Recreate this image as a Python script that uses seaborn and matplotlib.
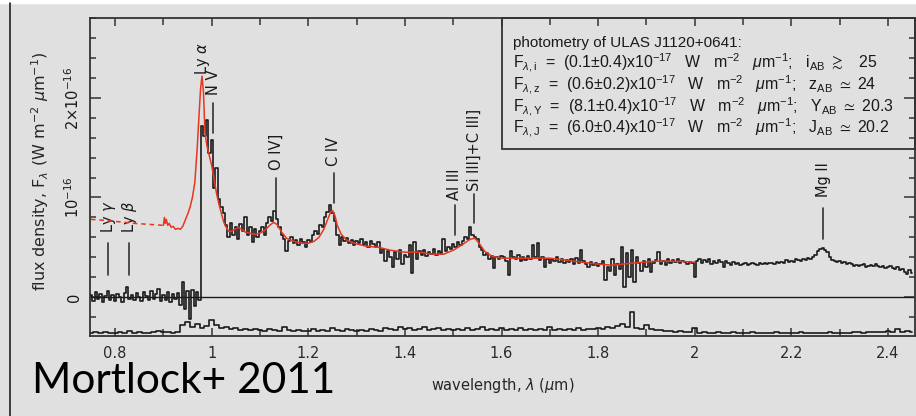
import numpy as np
import pandas as pd
import matplotlib
matplotlib.use("Agg")
import matplotlib.pyplot as plt
import seaborn as sns
from matplotlib.patches import Rectangle
from matplotlib.lines import Line2D
from matplotlib.ticker import MultipleLocator, FixedLocator, FuncFormatter

# ---------------------------------------------------------------------------
# Data (flux densities in units of 1e-16 W m^-2 um^-1, wavelengths in um)
# ---------------------------------------------------------------------------
# Observed spectrum, 0.005 um bins starting at 0.750 um
spec_start, spec_step = 0.750, 0.005
flux_blue = [0.02, -0.04, 0.05, -0.02, 0.03, -0.05, 0.01, 0.06, -0.03, 0.02,
             -0.04, 0.03, 0.00, -0.05, 0.04, 0.10, -0.02, 0.02, -0.03, 0.04,
             0.00, -0.04, 0.05, 0.01, -0.03, 0.06, -0.02, 0.03, 0.08, -0.04,
             0.02, -0.03, 0.05, -0.05, 0.03, -0.02, 0.04, -0.08, 0.15, -0.12,
             0.06, -0.22, 0.07, -0.09, 0.05, -0.03]
flux_lya = [1.72, 1.62, 1.78, 1.45, 1.58, 1.10, 1.30, 0.98, 0.90, 0.84,
            0.72, 0.60, 0.74, 0.62, 0.70, 0.58, 0.73, 0.66, 0.80, 0.62,
            0.70, 0.55, 0.68, 0.60, 0.66]
flux_civ = [0.70, 0.62, 0.74, 0.80, 0.76, 0.86, 0.78, 0.70, 0.62, 0.58,
            0.46, 0.56, 0.60, 0.54, 0.57, 0.52, 0.58, 0.55, 0.50, 0.57,
            0.55, 0.62, 0.66, 0.63, 0.72, 0.70, 0.80, 0.85, 0.92, 0.84,
            0.76, 0.62, 0.52, 0.60, 0.56, 0.59, 0.54, 0.57, 0.52, 0.56]
flux_ciii = [0.54, 0.58, 0.52, 0.55, 0.50, 0.56, 0.53, 0.50, 0.55, 0.44,
             0.48, 0.36, 0.46, 0.40, 0.30, 0.45, 0.38, 0.47, 0.33, 0.42,
             0.40, 0.52, 0.24, 0.55, 0.38, 0.46, 0.42, 0.47, 0.41, 0.45,
             0.43, 0.48, 0.42, 0.46, 0.44, 0.58, 0.46, 0.50, 0.48, 0.53,
             0.50, 0.55, 0.52, 0.56, 0.60, 0.58, 0.70, 0.62, 0.60, 0.58,
             0.50, 0.47, 0.42, 0.44, 0.38, 0.41, 0.29, 0.40, 0.38, 0.41]
flux_h = [0.40, 0.36, 0.22, 0.46, 0.40, 0.38, 0.42, 0.36, 0.40, 0.37,
          0.41, 0.38, 0.52, 0.40, 0.54, 0.37, 0.40, 0.30, 0.38, 0.34,
          0.38, 0.36, 0.40, 0.35, 0.38, 0.34, 0.37, 0.35, 0.38, 0.33,
          0.39, 0.34, 0.47, 0.36, 0.33, 0.30, 0.35, 0.32, 0.34, 0.31,
          0.33, 0.36, 0.17, 0.30, 0.26, 0.38, 0.22, 0.33, 0.28, 0.50,
          0.10, 0.44, 0.20, 0.47, 0.15, 0.40, 0.34, 0.26, 0.36, 0.30,
          0.38, 0.25, 0.34, 0.37, 0.45, 0.33, 0.36, 0.32, 0.38, 0.34,
          0.37, 0.35, 0.38, 0.34, 0.36, 0.35, 0.33, 0.35, 0.34, 0.20]
flux_k = [0.36, 0.38, 0.34, 0.37, 0.35, 0.38, 0.33, 0.36, 0.34, 0.37,
          0.35, 0.30, 0.36, 0.34, 0.32, 0.35, 0.33, 0.34, 0.32, 0.33,
          0.34, 0.32, 0.33, 0.34, 0.33, 0.32, 0.34, 0.33, 0.34, 0.33,
          0.34, 0.34, 0.33, 0.35, 0.34, 0.35, 0.34, 0.37, 0.35, 0.36,
          0.35, 0.38, 0.37, 0.36, 0.38, 0.37, 0.39, 0.38, 0.40, 0.42,
          0.46, 0.48, 0.49, 0.47, 0.45, 0.40, 0.37, 0.36, 0.35, 0.36,
          0.34, 0.35, 0.33, 0.34, 0.33, 0.31, 0.32, 0.31, 0.32, 0.33,
          0.30, 0.31, 0.32, 0.31, 0.33, 0.31, 0.30, 0.31, 0.29, 0.30,
          0.31, 0.29, 0.28, 0.30, 0.27, 0.28, 0.25, 0.23, 0.27, 0.24]

# 1-sigma noise spectrum, 0.01 um bins starting at 0.75 um
err_start, err_step = 0.75, 0.01
noise = [0.01, 0.02, 0.01, 0.02, 0.015, 0.01, 0.02, 0.01, 0.03, 0.01,
         0.02, 0.015, 0.01, 0.02, 0.03, 0.02, 0.02, 0.01, 0.02,
         0.09, 0.12, 0.07, 0.10, 0.06, 0.08, 0.14, 0.09, 0.06, 0.07,
         0.05, 0.06, 0.04, 0.05, 0.04, 0.05, 0.04,
         0.03, 0.05, 0.04, 0.03, 0.07, 0.04, 0.03, 0.04, 0.03, 0.03,
         0.05, 0.03, 0.04, 0.03, 0.06, 0.04, 0.03, 0.05, 0.04, 0.03,
         0.04, 0.03, 0.05, 0.04, 0.03, 0.06, 0.05, 0.04, 0.07, 0.05,
         0.06, 0.04, 0.05, 0.07, 0.04, 0.05, 0.06, 0.04, 0.05, 0.04,
         0.05, 0.04, 0.06, 0.04, 0.05, 0.07, 0.04, 0.05, 0.04, 0.06,
         0.04, 0.05, 0.04, 0.06, 0.04, 0.05, 0.04, 0.05, 0.04, 0.07,
         0.04, 0.05, 0.04, 0.05, 0.04, 0.06, 0.04, 0.05, 0.05, 0.06,
         0.05, 0.07, 0.06, 0.08, 0.10, 0.07, 0.22, 0.06, 0.05, 0.09,
         0.05, 0.04, 0.04, 0.03, 0.03, 0.02, 0.03, 0.02, 0.02, 0.06,
         0.01, 0.02, 0.01, 0.01, 0.02, 0.01, 0.01, 0.02, 0.01, 0.01,
         0.01, 0.02, 0.01, 0.01, 0.01, 0.01, 0.02, 0.01, 0.01, 0.01,
         0.01, 0.02, 0.01, 0.01, 0.01, 0.01, 0.01, 0.02, 0.01, 0.01,
         0.01, 0.01, 0.02, 0.02, 0.01, 0.02, 0.02, 0.02, 0.02, 0.03,
         0.02, 0.05, 0.02, 0.03, 0.02]
noise_offset = -0.375

# Composite quasar model: extrapolated blueward part and the fitted part
model_blue_wl = [0.750, 0.780, 0.810, 0.840, 0.870, 0.900]
model_blue_flux = [0.78, 0.77, 0.755, 0.74, 0.73, 0.72]
model_wl = [0.900, 0.902, 0.904, 0.906, 0.909, 0.912, 0.916, 0.920, 0.925, 0.930,
            0.935, 0.940, 0.945, 0.950, 0.955, 0.960, 0.965, 0.970, 0.974, 0.977,
            0.980, 0.983, 0.986, 0.990, 0.995, 1.000, 1.005, 1.010, 1.015, 1.020,
            1.025, 1.030, 1.035, 1.040, 1.048, 1.055, 1.062, 1.070, 1.080, 1.090,
            1.100, 1.110, 1.120, 1.128, 1.135, 1.145, 1.155, 1.170, 1.185, 1.200,
            1.212, 1.222, 1.232, 1.240, 1.246, 1.250, 1.255, 1.260, 1.268, 1.280,
            1.295, 1.320, 1.345, 1.370, 1.400, 1.430, 1.460, 1.480, 1.500, 1.520,
            1.535, 1.545, 1.555, 1.565, 1.580, 1.600, 1.650, 1.700, 1.750, 1.800,
            1.830, 1.870, 1.920, 1.960, 2.000]
model_flux = [0.72, 0.80, 0.74, 0.78, 0.72, 0.74, 0.70, 0.71, 0.68, 0.69,
              0.68, 0.71, 0.77, 0.83, 0.90, 1.00, 1.15, 1.50, 1.85, 2.10,
              2.22, 2.05, 1.65, 1.52, 1.42, 1.32, 1.18, 1.04, 0.93, 0.84,
              0.75, 0.70, 0.66, 0.66, 0.68, 0.70, 0.68, 0.65, 0.64, 0.63,
              0.64, 0.67, 0.72, 0.75, 0.73, 0.65, 0.59, 0.56, 0.54, 0.54,
              0.56, 0.60, 0.68, 0.78, 0.85, 0.87, 0.82, 0.72, 0.63, 0.57,
              0.54, 0.51, 0.50, 0.47, 0.45, 0.45, 0.43, 0.43, 0.47, 0.53,
              0.58, 0.59, 0.53, 0.46, 0.41, 0.39, 0.39, 0.39, 0.36, 0.33,
              0.32, 0.34, 0.36, 0.36, 0.35]

# Emission lines (observed wavelength)
line_names = [r"Ly $\gamma$", r"Ly $\beta$", r"Ly $\alpha$", "N V", "O IV]",
              "C IV", "Al III", "Si III]+C III]", "Mg II"]
line_wl = [0.786, 0.829, 0.981, 1.003, 1.133, 1.253, 1.503, 1.543, 2.266]

# Photometry
bands = ["i", "z", "Y", "J"]
band_flux = ["0.1", "0.6", "8.1", "6.0"]
band_err = ["0.4", "0.2", "0.4", "0.4"]
band_rel = [r"\gtrsim", r"\simeq", r"\simeq", r"\simeq"]
band_mag = ["  25", "24", "20.3", "20.2"]

# ---------------------------------------------------------------------------
flux = flux_blue + flux_lya + flux_civ + flux_ciii + flux_h + flux_k
wavelength = np.round(spec_start + spec_step * np.arange(len(flux)), 3)
spec = pd.DataFrame({"wavelength": wavelength, "flux": flux})
noise_wl = np.round(err_start + err_step * np.arange(len(noise)), 3)
err_df = pd.DataFrame({"wavelength": noise_wl,
                       "flux": np.array(noise) + noise_offset})
model_df = pd.DataFrame({"wavelength": model_wl, "flux": model_flux})
model_blue_df = pd.DataFrame({"wavelength": model_blue_wl, "flux": model_blue_flux})

BG = "#e0e0e0"
INK = "#1a1a1a"
RED = "#e8361f"

sns.set_style("ticks")
plt.rcParams.update({
    "font.family": ["DejaVu Sans"],
    "mathtext.fontset": "dejavusans",
    "mathtext.rm": "Liberation Sans",
    "mathtext.it": "Liberation Sans:italic",
    "mathtext.bf": "Liberation Sans:bold",
    "mathtext.sf": "Liberation Sans",
    "mathtext.fallback": "stixsans",
    "figure.facecolor": BG,
    "axes.facecolor": BG,
    "axes.edgecolor": "#333333",
    "axes.linewidth": 1.3,
    "text.color": INK,
    "xtick.color": "#333333",
    "ytick.color": "#333333",
    "xtick.labelcolor": "#2a2a2a",
    "ytick.labelcolor": INK,
})

fig = plt.figure(figsize=(9.16, 4.16), dpi=100)
ax = fig.add_axes([90 / 916, 1 - 336 / 416, 825 / 916, 318 / 416])

# zero level
ax.axhline(0, color=INK, lw=1.0, zorder=1)

sns.lineplot(data=spec, x="wavelength", y="flux", ax=ax, color=INK, lw=1.2,
             drawstyle="steps-mid", estimator=None, sort=False, zorder=3)
sns.lineplot(data=err_df, x="wavelength", y="flux", ax=ax, color=INK, lw=1.2,
             drawstyle="steps-mid", estimator=None, sort=False, zorder=3)
sns.lineplot(data=model_blue_df, x="wavelength", y="flux", ax=ax, color=RED,
             lw=1.1, dashes=False, linestyle=(0, (3, 2.5)), estimator=None,
             sort=False, zorder=4)
sns.lineplot(data=model_df, x="wavelength", y="flux", ax=ax, color=RED, lw=1.1,
             estimator=None, sort=False, zorder=4)

# line markers: (bottom, top) of the marker bar, then bottom of the label
marker_span = [(0.22, 0.54), (0.22, 0.54), None, (1.65, 1.95), (0.87, 1.20),
               (0.94, 1.25), (0.62, 0.92), (0.74, 1.04), (0.58, 0.89)]
label_base = [0.64, 0.64, 2.23, 2.03, 1.28, 1.32, 0.97, 1.07, 1.00]
for name, wl, span, base in zip(line_names, line_wl, marker_span, label_base):
    if span is not None:
        ax.plot([wl, wl], span, color="#333333", lw=1.2, zorder=2)
    ax.text(wl, base, name, rotation=90, ha="center", va="bottom",
            fontsize=10.5, color=INK)

# photometry box
box_font = dict(family=["Liberation Sans", "DejaVu Sans"],
                math_fontfamily="custom", va="baseline", ha="left",
                transform=ax.transAxes)
ax.add_patch(Rectangle((0.4994, 0.588), 0.5006, 0.412, transform=ax.transAxes,
                       fill=False, ec="#333333", lw=1.3, zorder=5, clip_on=False))
ax.text(0.513, 0.909, "photometry of ULAS J1120+0641:", fontsize=11, **box_font)
for k, (b, f, e, r, m) in enumerate(zip(bands, band_flux, band_err, band_rel, band_mag)):
    txt = (r"F$_{\lambda,\mathrm{" + b + r"}}$  =  (" + f + "±" + e
           + r")x10$^{-17}$   W   m$^{-2}$   $\mu$m$^{-1}$;   " + b
           + r"$_{\mathrm{AB}}$ $" + r + "$ " + m)
    ax.text(0.513, 0.843 - k * 0.0685, txt, fontsize=11.4, **box_font)

# axes, ticks
ax.set_xlim(0.748, 2.456)
ax.set_ylim(-0.392, 2.804)
ax.xaxis.set_major_locator(MultipleLocator(0.2))
ax.xaxis.set_minor_locator(MultipleLocator(0.1))
ax.xaxis.set_major_formatter(FuncFormatter(lambda v, p: "%g" % round(v, 3)))
ax.yaxis.set_major_locator(FixedLocator([0, 1, 2]))
ax.yaxis.set_minor_locator(MultipleLocator(0.2))
ax.set_yticks([0, 1, 2], labels=["0", r"10$^{-16}$", r"2×10$^{-16}$"])
ax.tick_params(which="both", direction="in", top=True, right=True, width=1.1)
ax.tick_params(axis="x", which="major", length=6, pad=7, labelsize=10.5)
ax.tick_params(axis="x", which="minor", length=5)
ax.tick_params(axis="y", which="major", length=8, pad=6, labelsize=10.5,
               labelrotation=90)
ax.tick_params(axis="y", which="minor", length=4)
for lab in ax.get_yticklabels():
    lab.set_va("center")

ax.set_xlabel(r"wavelength, $\lambda$ ($\mu$m)", fontsize=10.5)
ax.set_ylabel(r"flux density, F$_\lambda$ (W m$^{-2}$ $\mu$m$^{-1}$)", fontsize=11.5)
ax.xaxis.set_label_coords(0.5, -0.125)
ax.yaxis.set_label_coords(-0.047, 0.52)
for s in ax.spines.values():
    s.set_visible(True)

# slide framing and citation
fig.add_artist(Rectangle((0, 1 - 3 / 416), 1, 3 / 416, transform=fig.transFigure,
                         color="white", zorder=0))
fig.add_artist(Line2D([9.5 / 916, 9.5 / 916], [0, 1 - 3 / 416],
                      transform=fig.transFigure, color="#222222", lw=1.2))
fig.text(32 / 916, 1 - 393 / 416, "Mortlock+ 2011", fontsize=30.5,
         family=["Lato", "DejaVu Sans"], va="baseline", ha="left", color="black")

fig.savefig("out.png", dpi=100, facecolor=BG)
